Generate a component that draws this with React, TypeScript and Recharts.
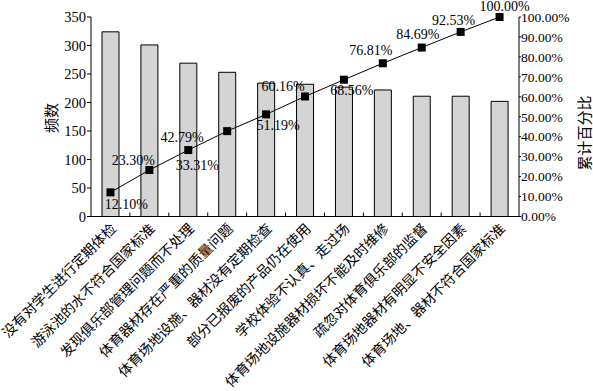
import React from 'react'
import { ComposedChart, Bar, Line, XAxis, YAxis, LabelList } from 'recharts'

const categories = [
  '没有对学生进行定期体检',
  '游泳池的水不符合国家标准',
  '发现俱乐部管理问题而不处理',
  '体育器材存在严重的质量问题',
  '体育场地设施、器材没有定期检查',
  '部分已报废的产品仍在使用',
  '学校体验不认真、走过场',
  '体育场地设施器材损坏不能及时维修',
  '疏忽对体育俱乐部的监督',
  '体育场地器材有明显不安全因素',
  '体育场地、器材不符合国家标准',
]
const frequency = [324, 301, 269, 253, 234, 232, 227, 222, 211, 211, 202]
const cumulative = [12.1, 23.3, 33.31, 42.79, 51.19, 60.16, 68.56, 76.81, 84.69, 92.53, 100.0]
const leftTicks = [0, 50, 100, 150, 200, 250, 300, 350]
const rightTicks = [0, 10, 20, 30, 40, 50, 60, 70, 80, 90, 100]

// label placement around each marker (dx, dy)
const labelOffsets = [
  [16, 12], [-16, -10], [9, 15], [-45, 6], [12, 11], [-22, -10],
  [8, 11], [-12, -13], [-4, -13], [-7, -11], [5, -11],
]

const data = categories.map((name, i) => ({ name, freq: frequency[i], pct: cumulative[i] }))

const FONT = 'Liberation Serif, Times New Roman, Noto Sans CJK SC, serif'
const W = 593
const H = 391
const LEFT_W = 91
const RIGHT_W = 74
const band = (W - LEFT_W - RIGHT_W) / categories.length

const XTick = (props: any) => {
  const { x, y, payload, index } = props
  const bx = x - band / 2
  return (
    <g>
      {index > 0 && <line x1={bx} x2={bx} y1={y} y2={y - 4} stroke="#000" />}
      <text
        transform={`translate(${x + 6.6},${y + 13}) rotate(-45)`}
        textAnchor="end"
        fontSize={14}
        style={{ fontFamily: FONT }}
        fill="#000"
      >
        {payload.value}
      </text>
    </g>
  )
}

const Square = (props: any) => {
  const { cx, cy, index } = props
  return <rect key={index} x={cx - 4} y={cy - 4} width={8} height={8} fill="#000" />
}

const PctLabel = (props: any) => {
  const { x, y, value, index } = props
  const [dx, dy] = labelOffsets[index] || [0, -10]
  return (
    <text
      x={x + dx}
      y={y + dy}
      textAnchor="middle"
      dominantBaseline="central"
      fontSize={14}
      style={{ fontFamily: FONT }}
      fill="#000"
    >
      {Number(value).toFixed(2)}%
    </text>
  )
}

export default function App() {
  return (
    <div style={{ position: 'absolute', left: 0, top: 0, background: '#fff', fontFamily: FONT }}>
      <ComposedChart width={W} height={H} data={data} margin={{ top: 17, right: 0, bottom: 0, left: 0 }}>
        <XAxis
          dataKey="name"
          height={174.5}
          interval={0}
          tickSize={0}
          tickMargin={0}
          tickLine={false}
          axisLine={{ stroke: '#000' }}
          tick={XTick}
        />
        <YAxis
          yAxisId="left"
          domain={[0, 350]}
          ticks={leftTicks}
          interval={0}
          width={LEFT_W}
          tickSize={4}
          tickMargin={1}
          axisLine={{ stroke: '#000' }}
          tickLine={{ stroke: '#000' }}
          tick={{ fill: '#000', fontSize: 14.5, style: { fontFamily: FONT } }}
          label={() => (
            <text
              transform="translate(52,118) rotate(-90)"
              textAnchor="middle"
              dominantBaseline="central"
              fontSize={15}
              style={{ fontFamily: FONT }}
              fill="#000"
            >
              频数
            </text>
          )}
        />
        <YAxis
          yAxisId="right"
          orientation="right"
          domain={[0, 100]}
          ticks={rightTicks}
          interval={0}
          width={RIGHT_W}
          tickSize={2}
          tickMargin={0}
          axisLine={{ stroke: '#000' }}
          tickLine={{ stroke: '#000' }}
          tick={{ fill: '#000', fontSize: 13.5, style: { fontFamily: FONT } }}
          tickFormatter={(v: number) => v.toFixed(2) + '%'}
          label={() => (
            <text
              transform="translate(585,133) rotate(-90)"
              textAnchor="middle"
              dominantBaseline="central"
              fontSize={15}
              style={{ fontFamily: FONT }}
              fill="#000"
            >
              累计百分比
            </text>
          )}
        />
        <Bar
          yAxisId="left"
          dataKey="freq"
          barSize={17}
          fill="#d4d4d4"
          stroke="#000"
          strokeWidth={1}
          isAnimationActive={false}
        />
        <Line
          yAxisId="right"
          dataKey="pct"
          stroke="#000"
          strokeWidth={1}
          dot={Square}
          activeDot={false}
          isAnimationActive={false}
        >
          <LabelList dataKey="pct" content={PctLabel} />
        </Line>
      </ComposedChart>
    </div>
  )
}
